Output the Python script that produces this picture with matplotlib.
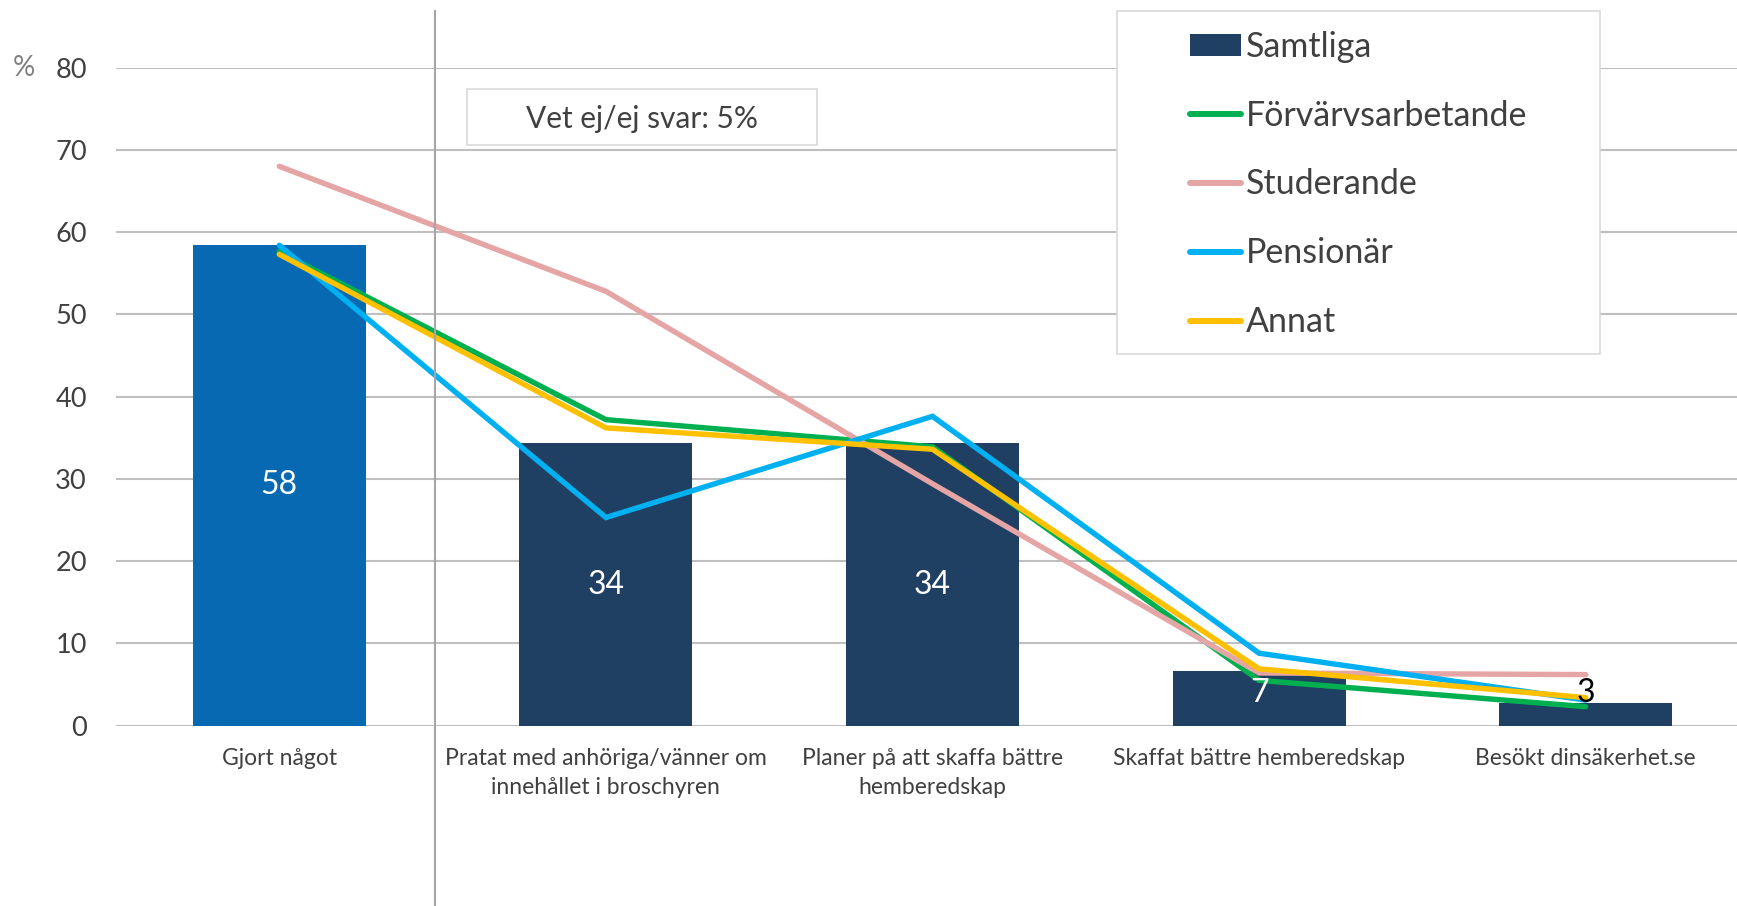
import matplotlib.pyplot as plt
from matplotlib.lines import Line2D
from matplotlib.patches import Rectangle

plt.rcParams["font.family"] = ["Lato", "DejaVu Sans"]

categories = [
    "Gjort något",
    "Pratat med anhöriga/vänner om\ninnehållet i broschyren",
    "Planer på att skaffa bättre\nhemberedskap",
    "Skaffat bättre hemberedskap",
    "Besökt dinsäkerhet.se",
]
samtliga = [58.4, 34.3, 34.3, 6.6, 2.7]
forvarvsarbetande = [57.6, 37.2, 33.9, 5.5, 2.3]
studerande = [68.0, 52.8, 29.4, 6.4, 6.2]
pensionar = [58.4, 25.3, 37.6, 8.8, 3.1]
annat = [57.3, 36.2, 33.6, 6.9, 3.4]
yticks = [0, 10, 20, 30, 40, 50, 60, 70, 80]

text_col = "#404040"
grid_col = "#BFBFBF"

fig = plt.figure(figsize=(17.37, 9.06), dpi=100)
ax = fig.add_axes([116 / 1737, 1 - 725.6 / 906, 1633 / 1737, 658 / 906])

x = list(range(len(categories)))
bar_colors = ["#0669B2"] + ["#1F3F63"] * (len(categories) - 1)
ax.bar(x, samtliga, width=0.53, color=bar_colors, zorder=2)

series = [
    ("Förvärvsarbetande", forvarvsarbetande, "#00B050"),
    ("Studerande", studerande, "#E6A5A5"),
    ("Pensionär", pensionar, "#00B0F0"),
    ("Annat", annat, "#FFC000"),
]
for name, vals, col in series:
    ax.plot(x, vals, color=col, lw=3.9, solid_capstyle="round",
            solid_joinstyle="miter", zorder=3)

# datalabels
for i, v in enumerate(samtliga):
    col = "white" if v > 5 else "black"
    ax.text(i, max(v / 2, 4), f"{v:.0f}", ha="center", va="center",
            fontsize=23, color=col, zorder=5)

ax.set_xlim(-0.5, 4.5)
ax.set_ylim(0, 80)
ax.set_yticks(yticks)
ax.set_xticks(x)
ax.set_xticklabels(categories, fontsize=16.5, color=text_col, linespacing=1.5)
ax.tick_params(axis="y", length=0, pad=21, labelsize=19.5, labelcolor=text_col)
ax.tick_params(axis="x", length=0, pad=16)
ax.yaxis.grid(True, color=grid_col, lw=1.5, zorder=0)
ax.set_axisbelow(True)
for s in ax.spines.values():
    s.set_visible(False)

fig.text(24 / 1737, 1 - 68 / 906, "%", fontsize=20, color="#808080",
         ha="center", va="center")

# skiljelinje
fig.add_artist(Line2D([435 / 1737, 435 / 1737], [0, 1 - 11 / 906],
                      color="#A6A6A6", lw=1.5))

# ruta med vet ej
fig.add_artist(Rectangle((467 / 1737, 1 - 145 / 906), 350 / 1737, 56 / 906,
                         facecolor="white", edgecolor="#D9D9D9", lw=1.2,
                         zorder=4))
fig.text(642 / 1737, 1 - 119 / 906, "Vet ej/ej svar: 5%", fontsize=21.5,
         color=text_col, ha="center", va="center", zorder=5)

# legend
fig.add_artist(Rectangle((1117 / 1737, 1 - 354 / 906), 483 / 1737, 343 / 906,
                         facecolor="white", edgecolor="#D9D9D9", lw=1.2,
                         zorder=4))
handles = [Rectangle((0, 0), 1, 1, facecolor="#1F3F63")]
handles += [Line2D([0], [0], color=c, lw=4.3, solid_capstyle="round")
            for _, _, c in series]
labels = ["Samtliga"] + [n for n, _, _ in series]
leg = fig.legend(handles, labels, loc="upper left",
                 bbox_to_anchor=(1190 / 1737, 1 - 31 / 906),
                 frameon=False, fontsize=24.5, handlelength=1.5,
                 handleheight=0.6, handletextpad=0.15, labelspacing=1.08,
                 borderpad=0, borderaxespad=0)
for t in leg.get_texts():
    t.set_color(text_col)
leg.set_zorder(6)

fig.savefig("out.png", dpi=100)
